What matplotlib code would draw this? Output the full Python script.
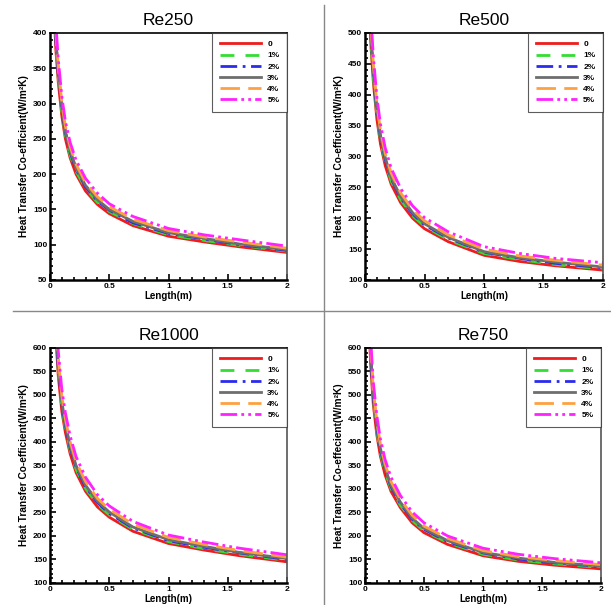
import matplotlib
matplotlib.use("Agg")
import matplotlib.pyplot as plt
from matplotlib.lines import Line2D
from matplotlib.ticker import MultipleLocator

plt.rcParams['font.family'] = ['Liberation Sans', 'DejaVu Sans']

length = [0.03, 0.04, 0.05, 0.07, 0.1, 0.13, 0.17, 0.22, 0.3, 0.4, 0.5, 0.7, 1.0, 1.3, 1.6, 2.0]
labels = ['0', '1%', '2%', '3%', '4%', '5%']
colors = ['#ee1c1c', '#33dd33', '#2b2bee', '#6e6e6e', '#ffa040', '#ff22ff']
styles = ['-', (0, (5, 4)), (0, (6, 2, 1, 2)), '-', (0, (7, 3)), (0, (6, 1.5, 1, 1.5, 1, 1.5))]

re250 = [
    [470, 410, 375, 330, 282, 250, 223, 200, 176, 157, 144, 127, 112, 104, 97, 89],
    [479, 418, 383, 337, 288, 255, 227, 204, 180, 160, 147, 130, 114, 106, 99, 91],
    [486, 424, 388, 342, 292, 259, 231, 207, 182, 162, 149, 131, 116, 108, 100, 92],
    [491, 428, 392, 345, 295, 261, 233, 209, 184, 164, 150, 133, 117, 109, 101, 93],
    [503, 439, 401, 353, 302, 268, 239, 214, 188, 168, 154, 136, 120, 111, 104, 95],
    [517, 451, 413, 363, 310, 275, 245, 220, 194, 173, 158, 140, 123, 114, 107, 98],
]
re500 = [
    [580, 520, 478, 420, 360, 320, 285, 255, 225, 200, 183, 162, 140, 130, 123, 116],
    [592, 530, 488, 428, 367, 326, 291, 260, 230, 204, 187, 165, 143, 133, 125, 118],
    [600, 538, 495, 435, 373, 331, 295, 264, 233, 207, 189, 168, 145, 135, 127, 120],
    [606, 543, 500, 439, 376, 334, 298, 266, 235, 209, 191, 169, 146, 136, 129, 121],
    [621, 556, 511, 449, 385, 342, 305, 273, 241, 214, 196, 173, 150, 139, 132, 124],
    [638, 572, 526, 462, 396, 352, 314, 281, 248, 220, 201, 178, 154, 143, 135, 128],
]
re1000 = [
    [760, 680, 620, 540, 465, 420, 375, 335, 295, 262, 240, 210, 184, 170, 158, 145],
    [775, 694, 632, 551, 474, 428, 383, 342, 301, 267, 245, 214, 188, 173, 161, 148],
    [787, 704, 642, 559, 481, 435, 388, 347, 305, 271, 248, 217, 190, 176, 164, 150],
    [794, 711, 648, 564, 486, 439, 392, 350, 308, 274, 251, 219, 192, 178, 165, 152],
    [813, 728, 663, 578, 498, 449, 401, 358, 316, 280, 257, 225, 197, 182, 169, 155],
    [836, 748, 682, 594, 512, 462, 413, 369, 325, 288, 264, 231, 202, 187, 174, 160],
]
re750 = [
    [680, 610, 555, 480, 415, 370, 330, 295, 260, 228, 207, 182, 158, 146, 138, 130],
    [694, 622, 566, 490, 423, 377, 337, 301, 265, 233, 211, 186, 161, 149, 141, 133],
    [704, 631, 574, 497, 430, 383, 342, 305, 269, 236, 214, 188, 164, 151, 143, 135],
    [711, 637, 580, 502, 434, 387, 345, 308, 272, 238, 216, 190, 165, 153, 144, 136],
    [728, 653, 594, 514, 444, 396, 353, 316, 278, 244, 221, 195, 169, 156, 148, 139],
    [748, 671, 611, 528, 457, 407, 363, 325, 286, 251, 228, 200, 174, 161, 152, 143],
]

panels = [
    ('Re250', re250, (50, 400), 'Heat Transfer Co-efficient(W/m²K)', [0.0818, 0.5372, 0.388, 0.4083]),
    ('Re500', re500, (100, 500), 'Heat Transfer Co-efficient(W/m²K)', [0.5974, 0.5372, 0.3895, 0.4083]),
    ('Re1000', re1000, (100, 600), 'Heat Transfer Co-efficient(W/m²K)', [0.0818, 0.0364, 0.388, 0.3884]),
    ('Re750', re750, (100, 600), 'Heat Transfer Co-effecient(W/m²K)', [0.5974, 0.0364, 0.3863, 0.3884]),
]

fig = plt.figure(figsize=(6.11, 6.05), dpi=100)

for title, data, ylim, ylab, rect in panels:
    ax = fig.add_axes(rect)
    for i in range(6):
        ax.plot(length, data[i], color=colors[i], linestyle=styles[i], lw=2, label=labels[i])
    ax.set_xlim(0, 2)
    ax.set_ylim(*ylim)
    ax.xaxis.set_major_locator(MultipleLocator(0.5))
    ax.xaxis.set_minor_locator(MultipleLocator(0.1))
    ax.yaxis.set_major_locator(MultipleLocator(50))
    ax.yaxis.set_minor_locator(MultipleLocator(10))
    ax.tick_params(which='both', direction='in', top=False, right=False, width=1.2)
    ax.tick_params(which='major', length=4, labelsize=6, pad=2)
    ax.tick_params(which='minor', length=2)
    ax.set_xticks([0, 0.5, 1, 1.5, 2], ['0', '0.5', '1', '1.5', '2'])
    for lab in ax.get_xticklabels() + ax.get_yticklabels():
        lab.set_fontweight('bold')
    ax.spines['left'].set_linewidth(1.8)
    ax.spines['bottom'].set_linewidth(1.8)
    ax.spines['top'].set_linewidth(1.2)
    ax.spines['right'].set_linewidth(1.2)
    ax.spines['right'].set_color('#555555')
    ax.set_title(title, fontsize=12.5, pad=6)
    ax.set_xlabel('Length(m)', fontsize=7, fontweight='bold', labelpad=1)
    ax.set_ylabel(ylab, fontsize=7.3, fontweight='bold', labelpad=3)
    leg = ax.legend(loc='upper right', borderaxespad=0, fancybox=False, handlelength=5,
                    labelspacing=0.4, handletextpad=0.7, borderpad=0.9,
                    prop={'size': 6, 'weight': 'bold'})
    leg.get_frame().set_edgecolor('#333333')
    leg.get_frame().set_linewidth(0.8)

# divider lines between panels
fig.add_artist(Line2D([13 / 611, 1], [1 - 311 / 605, 1 - 311 / 605], color='#888888', lw=1))
fig.add_artist(Line2D([324 / 611, 324 / 611], [0, 1 - 5 / 605], color='#888888', lw=1))

fig.savefig('out.png', dpi=100)
